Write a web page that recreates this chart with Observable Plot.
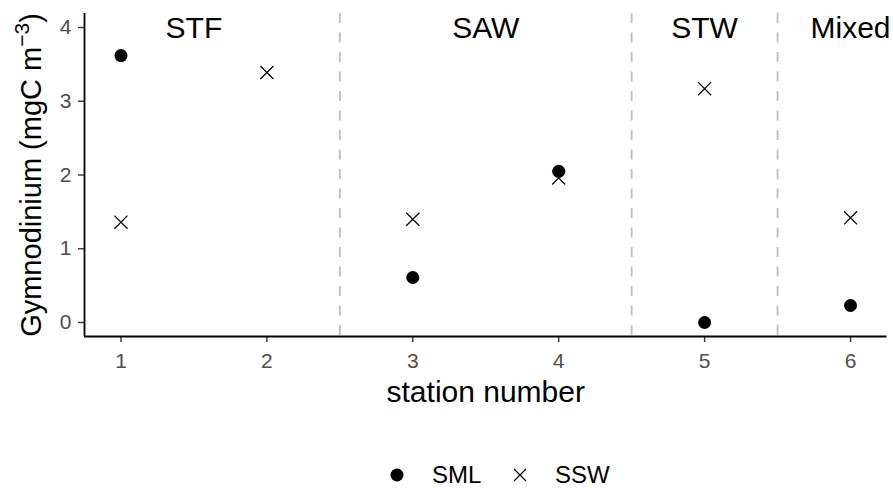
<!DOCTYPE html>
<html><head><meta charset="utf-8">
<script src="https://cdn.jsdelivr.net/npm/d3@7"></script>
<script src="https://cdn.jsdelivr.net/npm/@observablehq/plot@0.6"></script>
<style>
body{margin:0;background:#fff;font-family:"Liberation Sans",Arial,sans-serif;}
#legend{position:relative;height:68px;}
.item{position:absolute;top:55px;transform:translateY(-50%);display:flex;align-items:center;font-size:24px;color:#000;}
</style></head>
<body><div id="chart"></div><div id="legend"></div>
<script>
const stations = [1, 2, 3, 4, 5, 6];
const sml = [3.62, null, 0.61, 2.05, 0.00, 0.23];
const ssw = [1.36, 3.39, 1.40, 1.96, 3.17, 1.42];
const boundaries = [2.5, 4.5, 5.5];
const regionNames = ["STF", "SAW", "STW", "Mixed"];
const regionX = [1.5, 3.5, 5, 6];
const regionY = 4;
const xDomain = [0.75, 6.25];
const yDomain = [-0.19, 4.19];
const yTicks = [0, 1, 2, 3, 4];

const smlData = stations.map((s, i) => ({station: s, value: sml[i]})).filter(d => d.value != null);
const sswData = stations.map((s, i) => ({station: s, value: ssw[i]}));
const regions = regionNames.map((n, i) => ({name: n, x: regionX[i], y: regionY}));
const FONT = "'Liberation Sans', Arial, sans-serif";

const plot = Plot.plot({
  width: 893, height: 420,
  marginLeft: 84, marginRight: 6.5, marginTop: 13, marginBottom: 84,
  x: {domain: xDomain},
  y: {domain: yDomain},
  style: {fontFamily: FONT, background: "#fff"},
  marks: [
    Plot.ruleX(boundaries, {stroke: "#bdbdbd", strokeWidth: 1.8, strokeDasharray: "10,9.5"}),
    Plot.axisX({ticks: stations, tickSize: 6, tickFormat: () => "", stroke: "#333", strokeWidth: 1.4, label: null}),
    Plot.axisY({ticks: yTicks, tickSize: 6, tickFormat: () => "", stroke: "#333", strokeWidth: 1.4, label: null}),
    Plot.text(stations, {x: d => d, text: d => String(d), frameAnchor: "bottom", lineAnchor: "top", dy: 17, fontSize: 21, fill: "#4d4d4d"}),
    Plot.text(yTicks, {y: d => d, text: d => String(d), frameAnchor: "left", textAnchor: "end", lineAnchor: "middle", dx: -13, fontSize: 21, fill: "#4d4d4d"}),
    Plot.ruleX([xDomain[0]], {stroke: "#000", strokeWidth: 1.8}),
    Plot.ruleY([yDomain[0]], {stroke: "#000", strokeWidth: 1.8}),
    Plot.text(["station number"], {frameAnchor: "bottom", lineAnchor: "middle", dy: 56, fontSize: 30, fill: "#000"}),
    Plot.text(regions, {x: "x", y: "y", text: "name", fontSize: 30, fill: "#000", lineAnchor: "middle", dy: 1}),
    Plot.dot(smlData, {x: "station", y: "value", r: 6.5, fill: "#000", symbol: "circle"}),
    Plot.dot(sswData, {x: "station", y: "value", r: 6, stroke: "#000", strokeWidth: 1.2, symbol: "times"})
  ]
});

const svg = d3.select(plot);

// y axis title with superscript
const t = svg.append("text")
  .attr("transform", "translate(41,175) rotate(-90)")
  .attr("text-anchor", "middle")
  .attr("font-size", 29)
  .attr("fill", "#000");
t.append("tspan").text("Gymnodinium (mgC m");
t.append("tspan").attr("dy", -12).attr("font-size", 21).text("\u22123");
t.append("tspan").attr("dy", 12).text(")");

document.getElementById("chart").appendChild(plot);

// legend
const leg = d3.select("#legend");
const items = [
  {label: "SML", sym: "circle", left: 387},
  {label: "SSW", sym: "times", left: 510}
];
items.forEach(it => {
  const d = leg.append("div").attr("class", "item").style("left", it.left + "px");
  const s = d.append("svg").attr("width", 20).attr("height", 20).style("margin-right", "25px");
  if (it.sym === "circle") s.append("circle").attr("cx", 10).attr("cy", 10).attr("r", 6.5).attr("fill", "#000");
  else s.append("path").attr("d", "M4,4L16,16M16,4L4,16").attr("stroke", "#000").attr("stroke-width", 1.2);
  d.append("span").text(it.label);
});
</script></body></html>
